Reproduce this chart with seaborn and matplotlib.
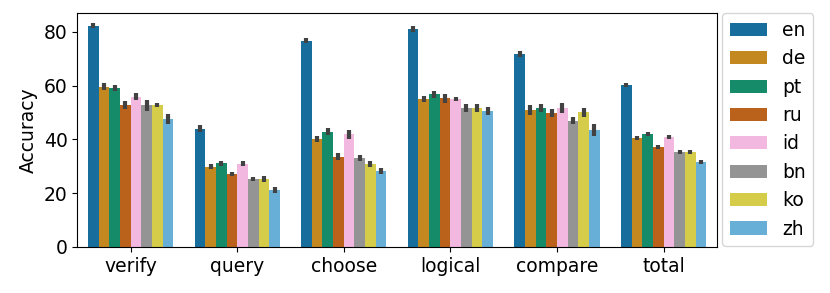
import numpy as np
import pandas as pd
import matplotlib
matplotlib.use('Agg')
import matplotlib.pyplot as plt
import seaborn as sns

tasks = ['verify', 'query', 'choose', 'logical', 'compare', 'total']
langs = ['en', 'de', 'pt', 'ru', 'id', 'bn', 'ko', 'zh']

# accuracy per task, one list per language
acc = {
    'en': [82.3, 44.0, 76.6, 81.0, 71.7, 60.2],
    'de': [59.6, 29.9, 40.1, 55.0, 50.9, 40.6],
    'pt': [59.2, 31.1, 42.9, 56.8, 51.6, 41.9],
    'ru': [52.7, 27.2, 33.6, 55.3, 49.8, 37.3],
    'id': [55.9, 30.9, 41.9, 55.0, 51.6, 40.8],
    'bn': [52.7, 25.2, 33.0, 51.6, 47.0, 35.4],
    'ko': [52.7, 25.2, 30.9, 51.6, 50.1, 35.4],
    'zh': [47.6, 21.2, 28.3, 50.6, 43.4, 31.6],
}
# half-length of error bars
err = {
    'en': [0.9, 1.2, 0.9, 1.1, 1.1, 0.8],
    'de': [1.2, 0.9, 1.2, 1.1, 2.0, 0.7],
    'pt': [1.2, 0.9, 1.2, 1.3, 1.4, 0.7],
    'ru': [1.5, 0.8, 1.2, 1.6, 1.6, 0.7],
    'id': [1.3, 0.9, 1.6, 0.9, 1.8, 0.8],
    'bn': [2.0, 0.8, 1.2, 1.5, 1.4, 0.7],
    'ko': [0.8, 1.1, 1.0, 1.5, 1.6, 0.8],
    'zh': [1.8, 1.2, 1.0, 1.6, 2.2, 0.9],
}

rows = []
for l in langs:
    for i, t in enumerate(tasks):
        rows.append({'task': t, 'lang': l, 'Accuracy': acc[l][i], 'err': err[l][i]})
df = pd.DataFrame(rows)

cb = sns.color_palette('colorblind')
pal = [cb[i] for i in (0, 1, 2, 3, 6, 7, 8, 9)]

plt.rcParams['font.family'] = ['DejaVu Sans']
fig, ax = plt.subplots(figsize=(8.3, 2.93), dpi=100)
sns.barplot(data=df, x='task', y='Accuracy', hue='lang', order=tasks, hue_order=langs,
            palette=pal, errorbar=None, ax=ax)

# error bars on top of each bar
for cont, l in zip(ax.containers, langs):
    for bar, t in zip(cont, tasks):
        r = df[(df['lang'] == l) & (df['task'] == t)].iloc[0]
        xc = bar.get_x() + bar.get_width() / 2
        ax.plot([xc, xc], [r['Accuracy'] - r['err'], r['Accuracy'] + r['err']],
                color='.26', lw=3, solid_capstyle='butt', zorder=3)

ax.set_xlabel('')
ax.set_ylabel('Accuracy', fontsize=13.5)
ax.set_xlim(-0.5, len(tasks) - 0.5)
ax.set_ylim(0, 86.8)
ax.tick_params(labelsize=13.5)
ax.legend(loc='upper left', bbox_to_anchor=(1.008, 1.0), fontsize=13.5, frameon=True,
          handlelength=2.0, borderaxespad=0)
plt.subplots_adjust(left=0.093, right=0.864, top=0.954, bottom=0.157)
plt.savefig('out.png', dpi=100)
